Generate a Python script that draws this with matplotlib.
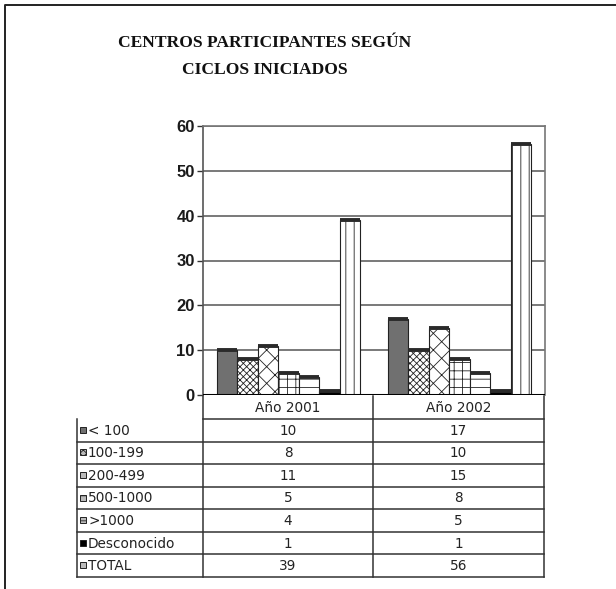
import matplotlib
matplotlib.use("Agg")
import matplotlib.pyplot as plt
from matplotlib.patches import Rectangle
import numpy as np

# Data
years = ["Año 2001", "Año 2002"]
series = ["< 100", "100-199", "200-499", "500-1000", ">1000", "Desconocido", "TOTAL"]
values_2001 = [10, 8, 11, 5, 4, 1, 39]
values_2002 = [17, 10, 15, 8, 5, 1, 56]
yticks = [0, 10, 20, 30, 40, 50, 60]

# Fill styles per series: (face, hatch)
styles = [
    ("#707070", None),
    ("white", "xxxxx"),
    ("white", "xx"),
    ("white", "++"),
    ("white", "--"),
    ("black", None),
    ("white", "||"),
]

W, H = 616, 589
plt.rcParams["hatch.linewidth"] = 0.6
fig = plt.figure(figsize=(W / 100, H / 100), dpi=100)

def px_rect(x0, y0, x1, y1):
    # pixel box (top-left origin) -> figure fraction rect
    return [x0 / W, 1 - y1 / H, (x1 - x0) / W, (y1 - y0) / H]

# ---- bar chart ----
ax = fig.add_axes(px_rect(203, 126, 545, 395))
x = np.arange(len(years))
n = len(series)
bw = 0.12
for i, name in enumerate(series):
    vals = [values_2001[i], values_2002[i]]
    face, hatch = styles[i]
    pos = x - bw * n / 2 + bw * (i + 0.5)
    ax.bar(pos, vals, width=bw, color=face, edgecolor="#222222",
           linewidth=0.8, hatch=hatch, zorder=3)
    # darker cap on every bar top
    ax.hlines(vals, pos - bw / 2, pos + bw / 2, color="#2a2a2a", lw=2.8, zorder=4)

ax.set_xlim(-0.5, 1.5)
ax.set_ylim(0, 60)
ax.set_yticks(yticks)
ax.set_yticklabels([str(t) for t in yticks], fontsize=12, fontweight="bold",
                   family="Liberation Sans", color="#1a1a1a")
ax.tick_params(axis="y", length=4, width=1, pad=2, color="#333333")
ax.set_xticks([])
ax.yaxis.grid(True, color="#555555", lw=1.1, zorder=0)
ax.set_axisbelow(True)
for side in ["top", "right"]:
    ax.spines[side].set_color("#777777")
    ax.spines[side].set_linewidth(1.2)
ax.spines["left"].set_color("#555555")
ax.spines["left"].set_linewidth(1.2)
ax.spines["bottom"].set_visible(False)
ax.axhline(0, color="black", lw=2.2, zorder=5)

# ---- frame, title and data table drawn in pixel space ----
ov = fig.add_axes([0, 0, 1, 1], zorder=-1)
ov.set_xlim(0, W)
ov.set_ylim(H, 0)
ov.axis("off")

ov.plot([5, 5, W], [H, 5, 5], color="#222222", lw=1.4)

title_font = dict(family="Liberation Serif", fontweight="bold", fontsize=12.6,
                  ha="center", va="center", color="#111111")
ov.text(265, 43, "CENTROS PARTICIPANTES SEGÚN", **title_font)
ov.text(265, 70, "CICLOS INICIADOS", **title_font)

tab = fig.add_axes([0, 0, 1, 1])
tab.set_xlim(0, W)
tab.set_ylim(H, 0)
tab.axis("off")

left, c1, c2, right = 77, 203, 373, 544
head_top, head_bot, bottom = 396, 419, 577
row_h = (bottom - head_bot) / n
line_kw = dict(color="#333333", lw=1.1)

for xv in (c1, c2, right):
    tab.plot([xv, xv], [head_top, bottom], **line_kw)
tab.plot([left, left], [head_bot, bottom], **line_kw)
tab.plot([c1, right], [head_bot, head_bot], **line_kw)
for r in range(1, n + 1):
    yy = head_bot + r * row_h
    tab.plot([left, right], [yy, yy], **line_kw)

cell_font = dict(family="DejaVu Sans", fontsize=9.8, color="#222222",
                 va="center")
for j, yr in enumerate(years):
    cx = (c1 + c2) / 2 if j == 0 else (c2 + right) / 2
    tab.text(cx, (head_top + head_bot) / 2 + 1, yr, ha="center", **cell_font)

for i, name in enumerate(series):
    yc = head_bot + (i + 0.5) * row_h
    face, hatch = styles[i]
    tab.add_patch(Rectangle((80, yc - 3.5), 6, 6, facecolor=face if face != "white" else "#bbbbbb",
                            edgecolor="#222222", lw=0.7, hatch=hatch))
    tab.text(88, yc + 0.5, name, ha="left", **cell_font)
    tab.text((c1 + c2) / 2, yc + 0.5, str(values_2001[i]), ha="center", **cell_font)
    tab.text((c2 + right) / 2, yc + 0.5, str(values_2002[i]), ha="center", **cell_font)

fig.savefig("out.png", dpi=100, facecolor="white")
